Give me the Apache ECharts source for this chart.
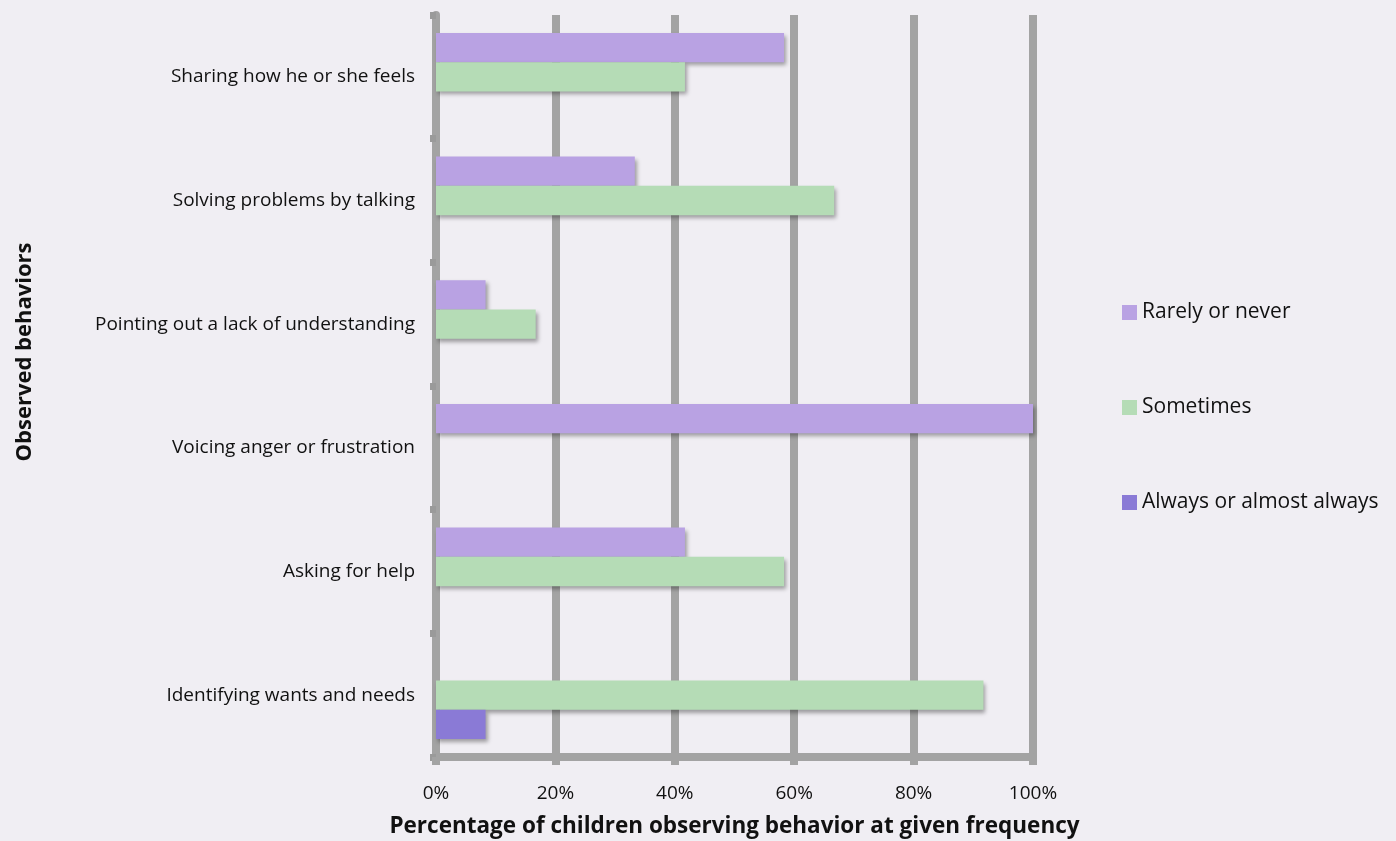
<!DOCTYPE html>
<html>
<head>
<meta charset="utf-8">
<script src="https://cdn.jsdelivr.net/npm/echarts@6/dist/echarts.min.js"></script>
<style>
html,body{margin:0;padding:0;background:#f0eef3;}
#chart{width:1396px;height:841px;}
</style>
</head>
<body>
<div id="chart"></div>
<script>
// Categories, top to bottom as shown
const categories = [
  'Sharing how he or she feels',
  'Solving problems by talking',
  'Pointing out a lack of understanding',
  'Voicing anger or frustration',
  'Asking for help',
  'Identifying wants and needs'
];
const seriesNames = ['Rarely or never', 'Sometimes', 'Always or almost always'];
const rarelyOrNever = [58.3, 33.3, 8.3, 100, 41.7, 0];
const sometimes = [41.7, 66.7, 16.7, 0, 58.3, 91.7];
const alwaysOrAlmostAlways = [0, 0, 0, 0, 0, 8.3];
const xTicks = [0, 20, 40, 60, 80, 100];
const colors = ['#b9a2e3', '#b5dcb6', '#8a7ad6'];

const font = '"Open Sans", "Noto Sans", sans-serif';
const chart = echarts.init(document.getElementById('chart'));
const barStyle = (c) => ({
  color: c,
  shadowColor: 'rgba(0,0,0,0.35)',
  shadowBlur: 4,
  shadowOffsetX: 2,
  shadowOffsetY: 3
});
const mk = (name, data, c) => ({
  name: name,
  type: 'bar',
  data: data,
  barGap: '0%',
  barCategoryGap: '29%',
  itemStyle: barStyle(c)
});
chart.setOption({
  backgroundColor: '#f0eef3',
  animation: false,
  grid: { left: 436, right: 363, top: 15, bottom: 84, containLabel: false, outerBoundsMode: 'none' },
  legend: {
    orient: 'vertical',
    left: 1117,
    top: 297,
    itemGap: 74,
    itemWidth: 15,
    itemHeight: 15,
    icon: 'rect',
    data: seriesNames,
    textStyle: { fontFamily: font, fontSize: 21, color: '#111' }
  },
  xAxis: {
    type: 'value',
    min: 0,
    max: 100,
    interval: 20,
    name: 'Percentage of children observing behavior at given frequency',
    nameLocation: 'middle',
    nameGap: 58,
    nameTextStyle: { fontFamily: font, fontSize: 22.5, fontWeight: 'bold', color: '#111' },
    axisLine: { show: true, lineStyle: { color: '#a3a3a3', width: 8 } },
    axisTick: { show: true, length: 8, lineStyle: { color: '#a3a3a3', width: 8 } },
    splitLine: { show: true, lineStyle: { color: '#a3a3a3', width: 8 } },
    axisLabel: {
      fontFamily: font, fontSize: 19, color: '#111', margin: 27,
      formatter: function (v) { return xTicks.indexOf(v) >= 0 ? v + '%' : ''; }
    }
  },
  yAxis: {
    type: 'category',
    inverse: true,
    data: categories,
    name: 'Observed behaviors',
    nameLocation: 'middle',
    nameGap: 400,
    nameRotate: 90,
    nameTextStyle: { fontFamily: font, fontSize: 22, fontWeight: 'bold', color: '#111', padding: [0, 0, 0, 68] },
    axisLine: { show: true, lineStyle: { color: '#a3a3a3', width: 8 } },
    axisTick: { show: true, length: 6, lineStyle: { color: '#9a9a9a', width: 7 } },
    axisLabel: { fontFamily: font, fontSize: 19, color: '#111', margin: 21 }
  },
  series: [
    mk(seriesNames[0], rarelyOrNever, colors[0]),
    mk(seriesNames[1], sometimes, colors[1]),
    mk(seriesNames[2], alwaysOrAlmostAlways, colors[2])
  ]
});
</script>
</body>
</html>
